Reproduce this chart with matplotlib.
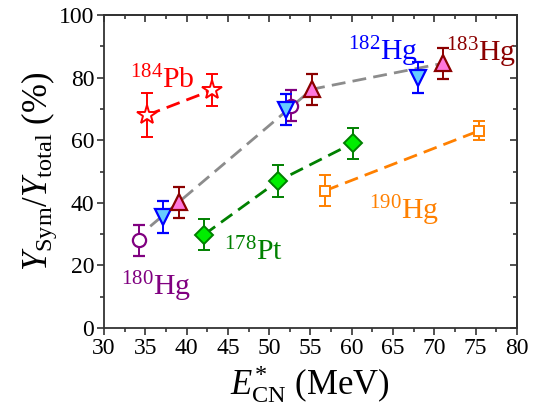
import matplotlib
matplotlib.use("Agg")
import matplotlib.pyplot as plt
from matplotlib.ticker import MultipleLocator

plt.rcParams['font.family'] = ['Liberation Serif', 'DejaVu Serif']
plt.rcParams['mathtext.fontset'] = 'custom'
plt.rcParams['mathtext.rm'] = 'Liberation Serif'
plt.rcParams['mathtext.it'] = 'Liberation Serif:italic'
plt.rcParams['mathtext.bf'] = 'Liberation Serif:bold'

# Data
pb184_x = [35.2, 43.1]
pb184_y = [68, 76]
pb184_e = [7, 5]

hg180_x = [34.3, 52.6]
hg180_y = [28, 71]
hg180_e = [5, 5]

hg182_x = [37.1, 52.0, 68.0]
hg182_y = [35.5, 69.8, 80]
hg182_e = [5, 5, 5]

hg183_x = [39.1, 55.2, 71.1]
hg183_y = [40.2, 76.3, 84.6]
hg183_e = [5, 5, 5]

pt178_x = [42.1, 51.1, 60.1]
pt178_y = [29.8, 47, 59]
pt178_e = [5, 5, 5]

hg190_x = [56.8, 75.4]
hg190_y = [43.9, 63]
hg190_e = [5, 3]

trend_x = [35.6, 55.2, 71.1]
trend_y = [32.5, 76.3, 84.6]

xticks = [30, 35, 40, 45, 50, 55, 60, 65, 70, 75, 80]
yticks = [0, 20, 40, 60, 80, 100]

fig = plt.figure(figsize=(5.43, 4.09), dpi=100)
ax = fig.add_axes([0.1915, 0.198, 0.9520 - 0.1915, 0.9633 - 0.198])

dash = (0, (5, 2.6))
ax.plot(trend_x, trend_y, color='#8c8c8c', lw=2.0, ls=dash, zorder=1)
ax.plot(pb184_x, pb184_y, color='#ff0000', lw=2.0, ls=dash, zorder=1)
ax.plot(pt178_x, pt178_y, color='#008000', lw=2.0, ls=dash, zorder=1)
ax.plot(hg190_x, hg190_y, color='#ff8000', lw=2.0, ls=dash, zorder=1)

common = dict(ls='none', elinewidth=1.4, capsize=4, capthick=1.4, zorder=3)
ax.errorbar(pb184_x, pb184_y, yerr=pb184_e, marker='*', ms=15, mfc='white',
            mec='#ff0000', mew=1.4, ecolor='#ff0000', **common)
ax.errorbar(hg180_x, hg180_y, yerr=hg180_e, marker='o', ms=9.5, mfc='white',
            mec='#800080', mew=1.6, ecolor='#800080', **common)
ax.errorbar(hg182_x, hg182_y, yerr=hg182_e, marker='v', ms=11, mfc='#66ccff',
            mec='#0000ff', mew=1.6, ecolor='#0000ff', **common)
ax.errorbar(hg183_x, hg183_y, yerr=hg183_e, marker='^', ms=11, mfc='#ff77dd',
            mec='#8b0000', mew=1.6, ecolor='#8b0000', **common)
ax.errorbar(pt178_x, pt178_y, yerr=pt178_e, marker='D', ms=9.5, mfc='#00ee00',
            mec='#008000', mew=1.4, ecolor='#008000', **common)
ax.errorbar(hg190_x, hg190_y, yerr=hg190_e, marker='s', ms=7.5, mfc='white',
            mec='#ff8000', mew=1.4, ecolor='#ff8000', **common)

lab_fs = 21.5
ax.text(33.15, 76.7, r'$^{184}$Pb', color='#ff0000', fontsize=lab_fs, va='baseline')
ax.text(59.6, 85.4, r'$^{182}$Hg', color='#0000ff', fontsize=lab_fs, va='baseline')
ax.text(71.4, 85.3, r'$^{183}$Hg', color='#8b0000', fontsize=lab_fs, va='baseline')
ax.text(32.0, 10.5, r'$^{180}$Hg', color='#800080', fontsize=lab_fs, va='baseline')
ax.text(44.5, 21.5, r'$^{178}$Pt', color='#008000', fontsize=lab_fs, va='baseline')
ax.text(62.1, 34.7, r'$^{190}$Hg', color='#ff8000', fontsize=lab_fs, va='baseline')

ax.set_xlim(30, 80)
ax.set_ylim(0, 100)
ax.set_xticks(xticks)
ax.set_yticks(yticks)
ax.xaxis.set_minor_locator(MultipleLocator(2.5))
ax.yaxis.set_minor_locator(MultipleLocator(10))

spine_c = '#333333'
for s in ax.spines.values():
    s.set_linewidth(1.3)
    s.set_color(spine_c)
ax.tick_params(which='both', direction='out', colors=spine_c, width=1.2,
               labelsize=17, labelcolor='black', pad=2)
ax.tick_params(which='major', length=5)
ax.tick_params(which='minor', length=3)

top = ax.secondary_xaxis('top')
top.set_xticks(xticks)
top.xaxis.set_minor_locator(MultipleLocator(2.5))
top.tick_params(which='both', direction='in', labeltop=False, colors=spine_c, width=1.2)
top.tick_params(which='major', length=5)
top.tick_params(which='minor', length=3)
right = ax.secondary_yaxis('right')
right.set_yticks(yticks)
right.yaxis.set_minor_locator(MultipleLocator(10))
right.tick_params(which='both', direction='in', labelright=False, colors=spine_c, width=1.2)
right.tick_params(which='major', length=5)
right.tick_params(which='minor', length=3)
for sa in (top, right):
    for s in sa.spines.values():
        s.set_linewidth(1.3)
        s.set_color(spine_c)

ax.set_xlabel(r'$E^{*}_{\rm CN}$ (MeV)', fontsize=25, labelpad=3)
ax.set_ylabel(r'$Y_{\rm Sym}/Y_{\rm total}$ (%)', fontsize=25, labelpad=0)

fig.savefig('out.png', dpi=100)
